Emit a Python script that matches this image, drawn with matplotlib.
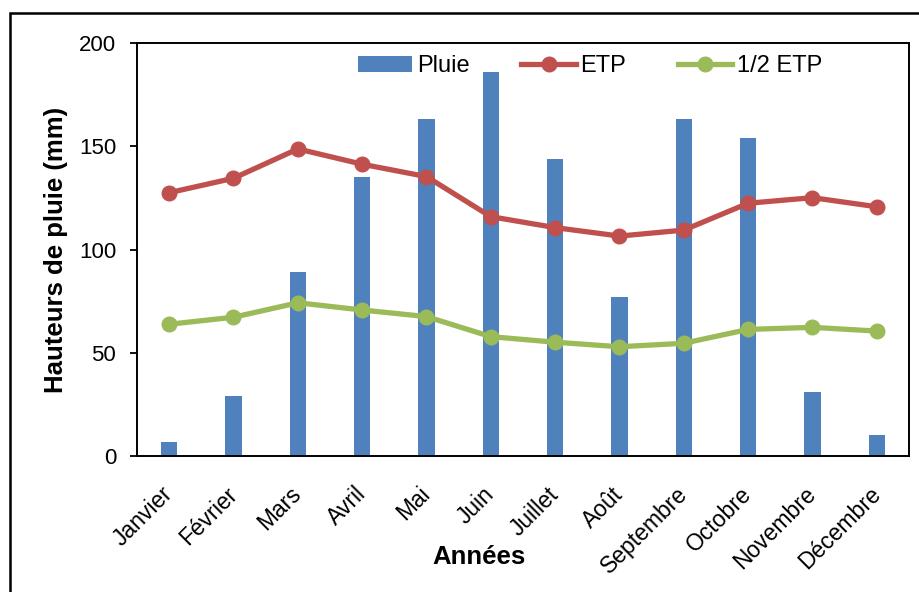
import numpy as np
import matplotlib
matplotlib.use("Agg")
import matplotlib.pyplot as plt
from matplotlib.patches import Rectangle

plt.rcParams['font.family'] = ['Liberation Sans', 'DejaVu Sans']

# data
mois = ['Janvier', 'Février', 'Mars', 'Avril', 'Mai', 'Juin', 'Juillet',
        'Août', 'Septembre', 'Octobre', 'Novembre', 'Décembre']
pluie = [7, 29, 89, 135, 163, 186, 144, 77, 163, 154, 31, 10]
etp = [127.5, 134.5, 148.7, 141.3, 135.3, 115.9, 110.6, 106.5, 109.4, 122.4, 125.1, 120.7]
demi_etp = [63.8, 67.2, 74.2, 70.7, 67.5, 57.8, 55.1, 52.9, 54.6, 61.3, 62.3, 60.5]

bleu = '#4F81BD'
rouge = '#C0504D'
vert = '#9BBB59'

fig = plt.figure(figsize=(9.2, 5.92), dpi=100)
ax = fig.add_axes([137/920, 1-456/592, (909-137)/920, (456-43)/592])

x = np.arange(len(mois))
b = ax.bar(x, pluie, width=0.25, color=bleu, label='Pluie', zorder=2)
l1, = ax.plot(x, etp, color=rouge, lw=3.8, marker='o', markersize=10.5, label='ETP', zorder=3)
l2, = ax.plot(x, demi_etp, color=vert, lw=3.8, marker='o', markersize=10.5, label='1/2 ETP', zorder=3)

ax.set_xlim(-0.5, len(mois) - 0.5)
ax.set_ylim(0, 200)
ax.set_yticks([0, 50, 100, 150, 200])
ax.set_xticks(x)
ax.set_xticklabels(mois, rotation=45, ha='right', va='center',
                   rotation_mode='anchor', fontsize=16.5)
ax.tick_params(axis='x', length=0, pad=25)
ax.tick_params(axis='y', direction='out', length=5, width=1.3, labelsize=16, pad=10)

for s in ax.spines.values():
    s.set_linewidth(1.4)
    s.set_color('black')

ax.set_ylabel('Hauteurs de pluie (mm)', fontsize=18.5, fontweight='bold', labelpad=8)
ax.set_xlabel('Années', fontsize=18.5, fontweight='bold', va='center')
ax.xaxis.set_label_coords(0.443, -0.245)

ax.legend([b, l1, l2], ['Pluie', 'ETP', '1/2 ETP'], loc='center',
          bbox_to_anchor=(0.587, 0.944), ncol=3, frameon=False,
          fontsize=17, handlelength=2.3, handletextpad=0.2, columnspacing=2.2,
          borderaxespad=0)

# outer frame of the figure (runs off the right and bottom edges)
fig.patches.append(Rectangle((10/920, -0.5), 2, 0.5 + 1 - 13/592,
                             transform=fig.transFigure, fill=False,
                             edgecolor='black', lw=1.8))

fig.savefig('out.png', dpi=100)
